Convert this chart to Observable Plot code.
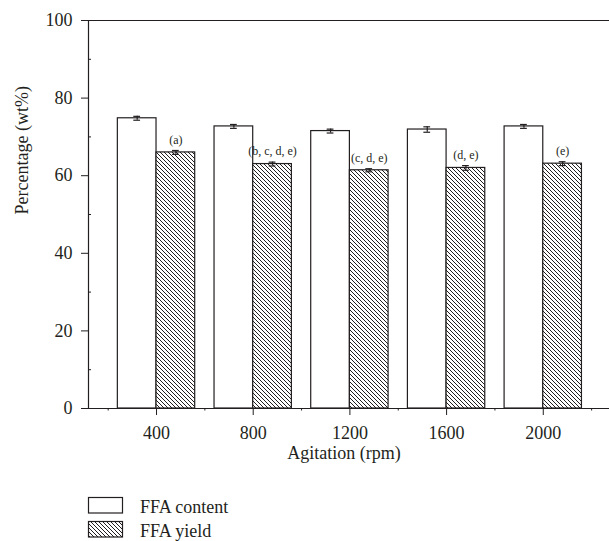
<!DOCTYPE html>
<html><head><meta charset="utf-8">
<script src="https://cdn.jsdelivr.net/npm/d3@7"></script>
<script src="https://cdn.jsdelivr.net/npm/@observablehq/plot@0.6"></script>
<style>
body{margin:0;background:#fff;font-family:"Liberation Serif",serif;}
#chart svg{display:block;}
</style></head><body><div id="chart"></div><script>
const agitation = [400, 800, 1200, 1600, 2000];
const ffaContent = [74.8, 72.7, 71.5, 71.9, 72.7];
const ffaContentErr = [0.5, 0.5, 0.5, 0.7, 0.5];
const ffaYield = [66.0, 63.0, 61.4, 62.0, 63.1];
const ffaYieldErr = [0.5, 0.5, 0.4, 0.6, 0.5];
const yieldLabels = ["(a)", "(b, c, d, e)", "(c, d, e)", "(d, e)", "(e)"];
const seriesNames = ["FFA content", "FFA yield"];
const xTicks = [400, 800, 1200, 1600, 2000];
const xMinorTicks = [200, 600, 1000, 1400, 1800, 2200];
const yTicks = [0, 20, 40, 60, 80, 100];
const yMinorTicks = [10, 30, 50, 70, 90];
const xTitle = "Agitation (rpm)";
const yTitle = "Percentage (wt%)";

const ink = "#231f20";
const barW = 160;     // bar width in rpm units
const capHalf = 14;   // half cap width in rpm units
const xDomain = [118.6, 2274];

const contentRows = agitation.map((a, i) => ({rpm: a, value: ffaContent[i], err: ffaContentErr[i], center: a - barW / 2}));
const yieldRows = agitation.map((a, i) => ({rpm: a, value: ffaYield[i], err: ffaYieldErr[i], center: a + barW / 2, label: yieldLabels[i]}));
const allRows = contentRows.concat(yieldRows);

const plot = Plot.plot({
  width: 609, height: 475,
  marginTop: 20, marginLeft: 88, marginRight: 0, marginBottom: 67,
  style: {fontFamily: '"Liberation Serif", serif', fontSize: "18px", color: ink, background: "white", overflow: "visible"},
  x: {type: "linear", domain: xDomain},
  y: {domain: [0, 100]},
  marks: [
    Plot.rect(contentRows, {x1: d => d.rpm - barW, x2: d => d.rpm, y1: 0, y2: "value", fill: "white", stroke: ink, strokeWidth: 1.2}),
    Plot.rect(yieldRows, {x1: d => d.rpm, x2: d => d.rpm + barW, y1: 0, y2: "value", fill: "url(#ffa-hatch)", stroke: ink, strokeWidth: 1.2}),
    Plot.ruleX(allRows, {x: "center", y1: d => d.value - d.err, y2: d => d.value + d.err, stroke: ink, strokeWidth: 1.2}),
    Plot.ruleY(allRows, {y: d => d.value + d.err, x1: d => d.center - capHalf, x2: d => d.center + capHalf, stroke: ink, strokeWidth: 1.2}),
    Plot.ruleY(allRows, {y: d => d.value - d.err, x1: d => d.center - capHalf, x2: d => d.center + capHalf, stroke: ink, strokeWidth: 1.2}),
    Plot.text(yieldRows, {x: "center", y: d => d.value, text: "label", dy: -12.5, fontSize: 12, fill: ink}),
    Plot.ruleY([yTicks[0], yTicks[yTicks.length - 1]], {stroke: ink, strokeWidth: 1.2}),
    Plot.ruleX([xDomain[0]], {y1: yTicks[0], y2: yTicks[yTicks.length - 1], stroke: ink, strokeWidth: 1.2}),
    Plot.axisY(yTicks, {tickSize: 7, tickPadding: 9, label: null, fontSize: 18, stroke: ink, fill: ink}),
    Plot.axisY(yMinorTicks, {tickSize: -3, fill: "none", label: null, stroke: ink}),
    Plot.axisX(xTicks, {tickSize: 7, tickPadding: 11, label: null, tickFormat: "d", fontSize: 18, stroke: ink, fill: ink}),
    Plot.axisX(xMinorTicks, {tickSize: 2.5, fill: "none", label: null, stroke: ink}),
    Plot.text([yTitle], {frameAnchor: "left", rotate: -90, dx: -66, fontSize: 18, fill: ink}),
    Plot.text([xTitle], {frameAnchor: "bottom", dx: -5, dy: 50, fontSize: 18, fill: ink})
  ]
});

const svg = d3.select(plot);
const defs = svg.insert("defs", ":first-child");
const pat = defs.append("pattern").attr("id", "ffa-hatch").attr("patternUnits", "userSpaceOnUse").attr("width", 4).attr("height", 4);
pat.append("rect").attr("width", 4).attr("height", 4).attr("fill", "white");
pat.append("path").attr("d", "M-1,-1L5,5M-1,3L1,5M3,-1L5,1").attr("stroke", ink).attr("stroke-width", 1);

document.getElementById("chart").appendChild(plot);

// legend below the chart
const legend = d3.create("svg").attr("width", 609).attr("height", 66)
  .style("font-family", '"Liberation Serif", serif').style("font-size", "18px");
const swatchFills = ["white", "url(#ffa-hatch)"];
seriesNames.forEach((name, i) => {
  const g = legend.append("g").attr("transform", `translate(0, ${i * 24})`);
  g.append("rect").attr("x", 88.5).attr("y", 22.5).attr("width", 34).attr("height", 15.5)
    .attr("fill", swatchFills[i]).attr("stroke", ink).attr("stroke-width", 1.2);
  g.append("text").attr("x", 140).attr("y", 38).attr("fill", ink).text(name);
});
document.getElementById("chart").appendChild(legend.node());
</script></body></html>
